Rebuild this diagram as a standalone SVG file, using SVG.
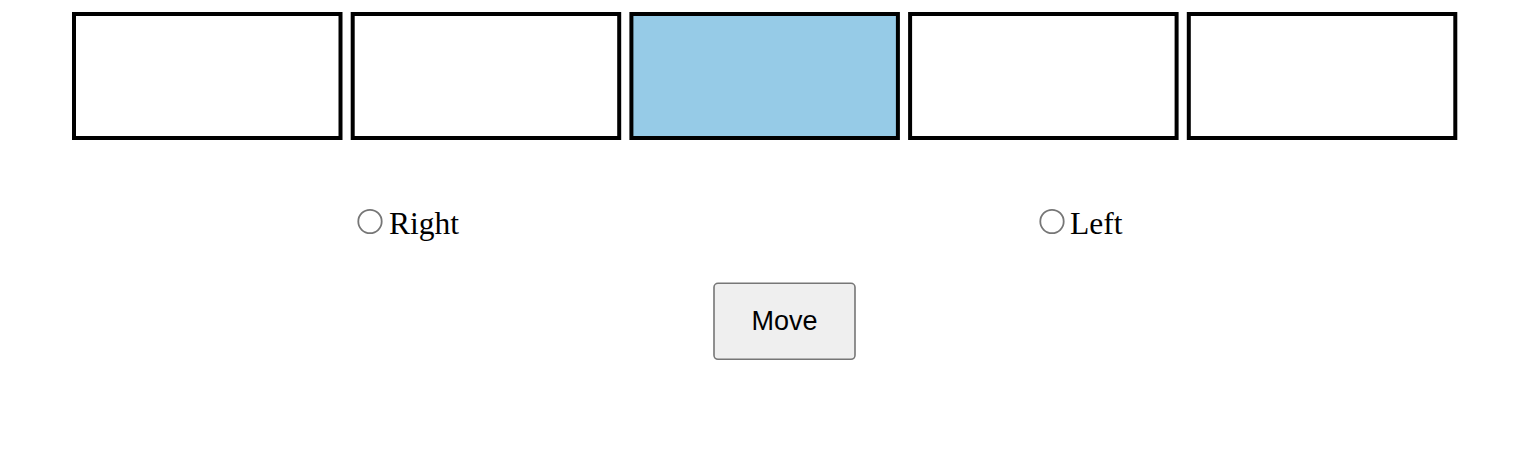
<svg xmlns="http://www.w3.org/2000/svg" width="1532" height="468" viewBox="0 0 1532 468">
<style>
.cell{fill:#ffffff;stroke:#000000;stroke-width:4}
.active{fill:#96cbe7}
.radio{fill:#ffffff;stroke:#767676;stroke-width:1.8}
.lbl{font-family:"Liberation Serif","Times New Roman",serif;font-size:31.5px;fill:#000000}
.btn{fill:#efefef;stroke:#767676;stroke-width:1.6}
.btntxt{font-family:"Liberation Sans",Arial,sans-serif;font-size:27px;fill:#000000;text-anchor:middle}
</style>
<rect width="1532" height="468" fill="#ffffff"/>
<g id="cell1"><rect class="cell" x="74" y="14" width="266.5" height="124"/></g>
<g id="cell2"><rect class="cell" x="352.7" y="14" width="266.5" height="124"/></g>
<g id="cell3"><rect class="cell active" x="631.4" y="14" width="266.5" height="124"/></g>
<g id="cell4"><rect class="cell" x="910.1" y="14" width="266.5" height="124"/></g>
<g id="cell5"><rect class="cell" x="1188.8" y="14" width="266.5" height="124"/></g>
<g id="radio-right">
<circle class="radio" cx="370" cy="221.5" r="11.7"/>
<text class="lbl" x="389" y="234">Right</text>
</g>
<g id="radio-left">
<circle class="radio" cx="1052" cy="221.5" r="11.7"/>
<text class="lbl" x="1070" y="234">Left</text>
</g>
<g id="move-button">
<rect class="btn" x="714" y="283.3" width="141" height="76" rx="4"/>
<text class="btntxt" x="784.5" y="330">Move</text>
</g>
<g id="connectors"></g>
</svg>
